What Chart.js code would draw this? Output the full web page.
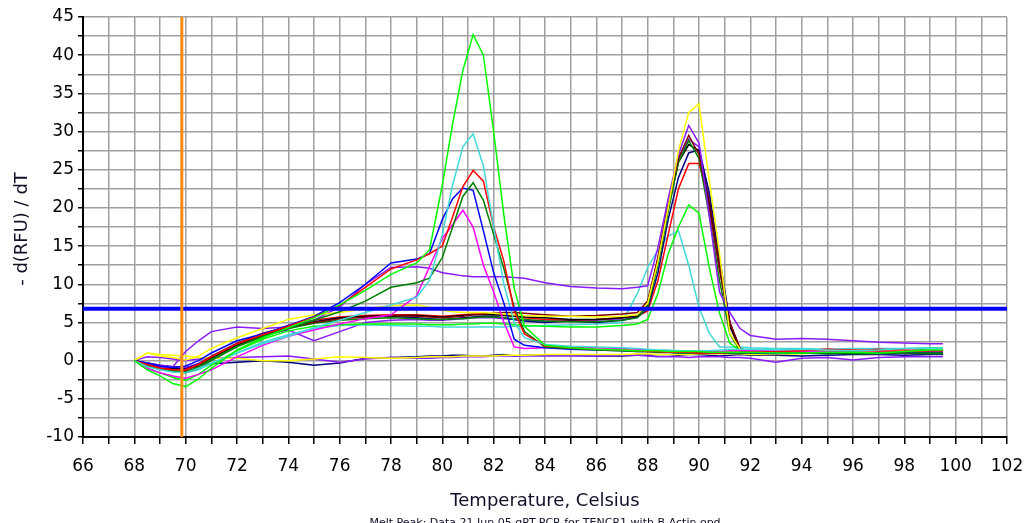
<!DOCTYPE html>
<html>
<head>
<meta charset="utf-8">
<script src="https://cdn.jsdelivr.net/npm/chart.js@4.4.0/dist/chart.umd.min.js"></script>
<style>
body { margin: 0; background: #fff; }
#wrap { width: 1027px; height: 523px; }
</style>
</head>
<body>
<div id="wrap"><canvas id="melt_chart" width="1027" height="523"></canvas></div>
<script>
// temperatures (Celsius) shared by every melt curve
var temps = [68, 68.5, 69, 69.5, 70, 70.5, 71,
    72, 73, 74, 75, 76, 77, 78, 79,
    79.5, 80, 80.4, 80.8, 81.2, 81.6, 82, 82.4, 82.8, 83.2,
    84, 85, 86, 87, 87.6, 88,
    88.4, 88.8, 89.2, 89.6, 90, 90.4, 90.8, 91.2, 91.6, 92,
    93, 94, 95, 96, 97, 98, 99, 99.5];

// curves with the peak near 81
var limeA = [0, -1.2, -2.0, -3.0, -3.4, -2.4, -1.0,
    1.4, 3.0, 4.3, 5.6, 7.3, 9.2, 11.3, 12.8,
    14.5, 23.0, 31.0, 38.0, 42.7, 40.0, 30.0, 19.0, 9.5, 4.5,
    2.0, 1.7, 1.5, 1.4, 1.3, 1.3,
    1.3, 1.2, 1.2, 1.2, 1.2, 1.1, 1.1, 1.1, 1.1, 1.1,
    1.0, 1.0, 1.1, 1.1, 1.0, 1.2, 1.4, 1.4];
var cyanA = [0, -0.8, -1.2, -1.5, -1.6, -1.0, -0.3,
    1.0, 2.2, 3.2, 4.3, 5.3, 6.3, 7.3, 8.3,
    10.5, 16.5, 23.0, 28.0, 29.7, 25.5, 17.5, 10.0, 5.0, 3.0,
    2.1, 1.9, 1.8, 1.7, 1.6, 1.5,
    1.4, 1.4, 1.3, 1.3, 1.3, 1.3, 1.4, 1.5, 1.5, 1.5,
    1.4, 1.5, 1.4, 1.3, 1.4, 1.6, 1.6, 1.6];
var redA = [0, -0.5, -1.0, -1.2, -1.2, -0.5, 0.5,
    2.2, 3.4, 4.5, 5.7, 7.2, 9.6, 12.0, 13.2,
    14.0, 15.0, 18.8, 22.8, 24.9, 23.5, 17.5, 13.0, 6.5, 3.5,
    1.9, 1.7, 1.5, 1.4, 1.3, 1.2,
    1.2, 1.1, 1.1, 1.1, 1.0, 1.0, 1.0, 1.1, 1.1, 1.1,
    1.2, 1.3, 1.5, 1.4, 1.3, 1.2, 1.3, 1.3];
var dkgreenA = [0, -0.6, -1.0, -1.3, -1.5, -0.8, 0.2,
    1.9, 3.1, 4.2, 5.3, 6.4, 7.8, 9.6, 10.2,
    10.8, 13.5, 17.5, 21.5, 23.3, 21.0, 16.5, 12.0, 7.0, 3.8,
    1.8, 1.6, 1.4, 1.3, 1.2, 1.2,
    1.1, 1.1, 1.0, 1.0, 1.0, 1.0, 1.0, 1.0, 1.0, 1.0,
    1.1, 1.0, 1.0, 0.9, 0.9, 1.0, 1.0, 1.0];
var blueA = [0, -0.3, -0.7, -0.9, -0.7, 0.0, 1.0,
    2.6, 3.5, 4.6, 5.8, 7.6, 10.0, 12.8, 13.3,
    14.0, 18.5, 21.2, 22.6, 22.3, 17.0, 11.5, 7.5, 2.8, 2.0,
    1.7, 1.5, 1.4, 1.3, 1.2, 1.2,
    1.1, 1.1, 1.0, 1.0, 1.0, 1.0, 1.0, 1.0, 1.0, 1.0,
    0.9, 1.0, 1.0, 1.1, 1.0, 1.0, 1.1, 1.1];
var magentaA = [0, -1.0, -1.6, -2.0, -2.3, -1.8, -1.2,
    0.5, 2.0, 3.2, 4.0, 4.8, 5.5, 6.0, 8.5,
    12.3, 16.0, 17.8, 19.7, 17.5, 12.5, 9.0, 5.0, 1.8, 1.6,
    1.7, 1.8, 1.7, 1.6, 1.5, 1.4,
    1.3, 1.3, 1.2, 1.2, 1.2, 1.2, 1.2, 1.3, 1.3, 1.3,
    1.3, 1.2, 1.2, 1.1, 1.1, 1.2, 1.3, 1.3];

// curves with the peak near 90
var yellowB = [0, 1.0, 0.6, 0.4, 0.1, 0.6, 1.6,
    3.0, 4.2, 5.4, 6.0, 6.3, 6.8, 7.2, 7.3,
    7.0, 6.6, 6.4, 6.3, 6.3, 6.3, 6.2, 6.1, 6.0, 5.9,
    5.8, 5.8, 5.7, 5.8, 6.0, 7.5,
    13.0, 20.0, 27.5, 32.5, 33.6, 23.6, 14.0, 3.6, 1.5, 1.3,
    1.2, 1.1, 1.3, 1.2, 1.1, 1.2, 1.3, 1.3];
var purpleB = [0, -0.6, -0.9, -0.8, 1.2, 2.6, 3.8,
    4.4, 4.2, 4.4, 5.3, 7.0, 10.0, 12.2, 12.3,
    12.1, 11.5, 11.3, 11.1, 11.0, 11.0, 11.0, 11.0, 10.9, 10.8,
    10.2, 9.7, 9.5, 9.4, 9.6, 9.8,
    14.8, 21.2, 27.0, 30.8, 28.5, 19.0, 9.0, 6.3, 4.2, 3.3,
    2.8, 2.9, 2.8, 2.6, 2.4, 2.3, 2.2, 2.2];
var darkredB = [0, -0.4, -0.9, -1.2, -1.3, -0.5, 0.6,
    2.3, 3.6, 4.4, 5.0, 5.5, 5.7, 5.9, 5.8,
    5.7, 5.6, 5.7, 5.8, 6.0, 6.1, 6.2, 6.3, 6.3, 6.2,
    6.0, 5.8, 5.9, 6.1, 6.3, 7.8,
    13.5, 20.5, 26.5, 29.5, 27.0, 20.0, 12.0, 5.0, 1.6, 1.2,
    1.1, 1.1, 1.2, 1.1, 1.1, 1.0, 1.1, 1.1];
var dkgreenB = [0, -0.7, -1.1, -1.4, -1.6, -1.0, 0.0,
    1.8, 3.2, 4.2, 4.9, 5.3, 5.5, 5.6, 5.5,
    5.4, 5.4, 5.5, 5.5, 5.6, 5.7, 5.7, 5.6, 5.5, 5.4,
    5.2, 5.1, 5.1, 5.3, 5.6, 7.0,
    12.5, 19.5, 26.0, 28.8, 26.5, 19.0, 10.5, 3.5, 1.3, 1.1,
    1.0, 1.0, 0.9, 1.0, 1.0, 1.0, 0.9, 0.9];
var blackB = [0, -0.5, -0.9, -1.1, -1.2, -0.6, 0.3,
    2.0, 3.3, 4.3, 5.0, 5.6, 5.8, 5.9, 5.9,
    5.8, 5.7, 5.8, 5.9, 6.0, 6.0, 6.0, 5.9, 5.8, 5.7,
    5.6, 5.4, 5.4, 5.6, 5.9, 7.3,
    13.0, 20.0, 26.0, 28.3, 27.5, 20.5, 12.0, 4.5, 1.4, 1.1,
    1.0, 1.0, 1.0, 1.0, 1.0, 1.0, 1.0, 1.0];
var navyB = [0, -0.4, -0.8, -1.0, -1.1, -0.4, 0.5,
    2.1, 3.3, 4.4, 5.1, 5.6, 5.7, 5.8, 5.6,
    5.5, 5.4, 5.5, 5.6, 5.7, 5.8, 5.8, 5.6, 5.4, 5.2,
    5.0, 5.2, 5.0, 5.3, 5.7, 6.8,
    11.5, 18.5, 24.0, 27.2, 27.6, 22.0, 13.5, 5.0, 1.5, 1.2,
    1.0, 1.1, 1.0, 1.1, 1.0, 1.1, 1.0, 1.0];
var redB = [0, -0.6, -1.1, -1.4, -1.5, -0.9, 0.2,
    2.0, 3.4, 4.6, 5.3, 5.7, 5.9, 6.0, 6.0,
    5.9, 5.8, 5.9, 6.0, 6.1, 6.1, 6.1, 6.0, 5.8, 5.6,
    5.4, 5.3, 5.4, 5.6, 5.8, 6.5,
    10.5, 16.5, 22.5, 25.8, 25.8, 21.0, 13.0, 5.0, 1.5, 1.2,
    1.1, 1.3, 1.5, 1.3, 1.5, 1.4, 1.3, 1.3];
var limeB = [0, -1.0, -1.6, -2.2, -2.6, -1.8, -0.6,
    1.3, 2.8, 3.9, 4.5, 4.7, 4.8, 4.8, 4.8,
    4.7, 4.7, 4.7, 4.8, 4.8, 4.9, 4.9, 4.8, 4.7, 4.6,
    4.5, 4.4, 4.4, 4.6, 4.8, 5.4,
    8.8, 14.0, 17.5, 20.4, 19.3, 12.2, 6.2, 2.3, 1.3, 1.1,
    1.1, 1.2, 1.3, 1.2, 1.1, 1.2, 1.6, 1.6];
var cyanB = [0, -0.7, -1.1, -1.4, -1.6, -1.2, -0.4,
    1.0, 2.4, 3.4, 4.2, 4.6, 4.7, 4.6, 4.5,
    4.5, 4.4, 4.4, 4.4, 4.4, 4.4, 4.4, 4.4, 4.5, 4.5,
    4.6, 4.7, 4.8, 5.0, 8.8, 12.2,
    14.5, 16.3, 17.0, 12.5, 7.0, 3.6, 1.8, 1.8, 1.8, 1.7,
    1.6, 1.6, 1.5, 1.6, 1.6, 1.6, 1.7, 1.7];
var violetB = [0, -0.3, -0.6, -0.8, -0.9, -0.4, 0.4,
    2.0, 3.3, 4.0, 2.6, 3.8, 5.0, 5.3, 5.4,
    5.3, 5.3, 5.4, 5.5, 5.6, 5.6, 5.6, 5.5, 5.4, 5.3,
    5.2, 5.2, 5.3, 5.5, 5.8, 7.5,
    13.5, 20.5, 26.5, 29.0, 28.0, 21.5, 13.0, 5.0, 1.5, 1.1,
    1.0, 1.0, 1.0, 1.0, 0.9, 1.0, 1.0, 1.0];

// flat curves (no product)
var yellowC = [0, 1.0, 0.8, 0.7, 0.6, 0.4, 0.3,
    0.3, 0.0, 0.0, 0.2, 0.5, 0.4, 0.3, 0.4,
    0.5, 0.5, 0.5, 0.6, 0.6, 0.6, 0.6, 0.7, 0.7, 0.7,
    0.8, 0.8, 0.8, 0.8, 0.9, 0.9,
    0.8, 0.8, 0.8, 0.8, 0.9, 0.9, 0.9, 0.9, 0.9, 0.8,
    0.8, 0.9, 1.1, 1.0, 1.0, 1.0, 1.1, 1.1];
var purpleC = [0, 0.5, 0.4, 0.2, 0.0, 0.2, 0.3,
    0.4, 0.5, 0.6, 0.2, -0.2, 0.2, 0.4, 0.3,
    0.3, 0.4, 0.4, 0.5, 0.5, 0.5, 0.6, 0.6, 0.6, 0.6,
    0.6, 0.6, 0.6, 0.7, 0.7, 0.6,
    0.5, 0.5, 0.5, 0.4, 0.5, 0.5, 0.5, 0.4, 0.4, 0.3,
    -0.2, 0.3, 0.4, 0.1, 0.4, 0.5, 0.5, 0.5];
var navyC = [0, -0.3, -0.6, -0.8, -1.0, -0.7, -0.4,
    -0.2, 0.0, -0.2, -0.6, -0.3, 0.3, 0.4, 0.5,
    0.6, 0.6, 0.7, 0.7, 0.6, 0.6, 0.7, 0.8, 0.6, 0.7,
    0.7, 0.7, 0.6, 0.6, 0.7, 0.7,
    0.8, 0.8, 0.7, 0.8, 0.8, 0.7, 0.6, 0.7, 0.8, 0.7,
    0.7, 0.6, 0.7, 0.8, 0.8, 0.7, 0.8, 0.8];

// marker lines
var markerTemp = 69.85;
var thresholdValue = 6.8;

var xTitle = 'Temperature, Celsius';
var yTitle = '- d(RFU) / dT';
var footNote = 'Melt Peak: Data 21 Jun 05 qRT-PCR for TENCR1 with B-Actin.opd';

var curves = [
    [limeA, '#00ff00'], [cyanA, '#40d8d8'], [redA, '#ff0000'],
    [dkgreenA, '#008000'], [blueA, '#0000ff'], [magentaA, '#ff00ff'],
    [yellowB, '#ffff00'], [purpleB, '#8c1aff'], [darkredB, '#800000'],
    [dkgreenB, '#008000'], [blackB, '#000000'], [navyB, '#000080'],
    [redB, '#ff0000'], [limeB, '#00ff00'], [cyanB, '#40d8d8'],
    [violetB, '#8c1aff'], [yellowC, '#ffff00'], [purpleC, '#8c1aff'],
    [navyC, '#000080']
];

function toPoints(values) {
    var pts = [];
    for (var i = 0; i < temps.length; i++) {
        pts.push({x: temps[i], y: values[i]});
    }
    return pts;
}

var datasets = [
    {data: [{x: markerTemp, y: -10}, {x: markerTemp, y: 45}], borderColor: '#ff8a10', borderWidth: 3},
    {data: [{x: 66, y: thresholdValue}, {x: 102, y: thresholdValue}], borderColor: '#0000ff', borderWidth: 4}
];
for (var c = 0; c < curves.length; c++) {
    datasets.push({data: toPoints(curves[c][0]), borderColor: curves[c][1], borderWidth: 1.5});
}

var titlePlugin = {
    id: 'meltTitles',
    afterDraw: function(chart) {
        var ctx = chart.ctx, area = chart.chartArea;
        var cx = (area.left + area.right) / 2;
        ctx.save();
        ctx.fillStyle = '#10102a';
        ctx.textAlign = 'center';
        ctx.textBaseline = 'alphabetic';
        ctx.font = '18px "DejaVu Sans"';
        ctx.fillText(xTitle, cx, 506);
        ctx.font = '11px "DejaVu Sans"';
        ctx.fillText(footNote, cx, 526);
        ctx.translate(22, (area.top + area.bottom) / 2 + 2);
        ctx.rotate(-Math.PI / 2);
        ctx.font = '18px "DejaVu Sans"';
        ctx.textBaseline = 'middle';
        ctx.fillText(yTitle, 0, 0);
        ctx.restore();
    }
};

Chart.defaults.font.family = '"DejaVu Sans"';

var chart_canvas = document.getElementById('melt_chart').getContext('2d');
var chart_object = new Chart(chart_canvas, {
    type: 'line',
    data: {datasets: datasets},
    plugins: [titlePlugin],
    options: {
        responsive: false,
        animation: false,
        layout: {padding: {top: 17, right: 20, left: 0, bottom: 0}},
        elements: {
            point: {radius: 0, hoverRadius: 0},
            line: {tension: 0, fill: false}
        },
        plugins: {legend: {display: false}, tooltip: {enabled: false}},
        scales: {
            x: {
                type: 'linear',
                min: 66,
                max: 102,
                grid: {color: '#a0a0a0', lineWidth: 1.5, tickColor: '#000', tickLength: 7},
                border: {color: '#000', width: 2},
                ticks: {
                    stepSize: 1,
                    autoSkip: false,
                    maxRotation: 0,
                    padding: 12,
                    color: '#000',
                    font: {size: 17},
                    callback: function(v) { return v % 2 === 0 ? v : ''; }
                },
                afterFit: function(scale) {
                    scale.height = 86;
                    scale.paddingLeft = 0;
                    scale.paddingRight = 0;
                }
            },
            y: {
                type: 'linear',
                min: -10,
                max: 45,
                grid: {color: '#a0a0a0', lineWidth: 1.5, tickColor: '#000', tickLength: 5},
                border: {color: '#000', width: 2},
                ticks: {
                    stepSize: 2.5,
                    autoSkip: false,
                    padding: 4,
                    color: '#000',
                    font: {size: 17},
                    callback: function(v) { return v % 5 === 0 ? v : ''; }
                },
                afterFit: function(scale) {
                    scale.width = 83;
                    scale.paddingTop = 0;
                    scale.paddingBottom = 0;
                }
            }
        }
    }
});
</script>
</body>
</html>
